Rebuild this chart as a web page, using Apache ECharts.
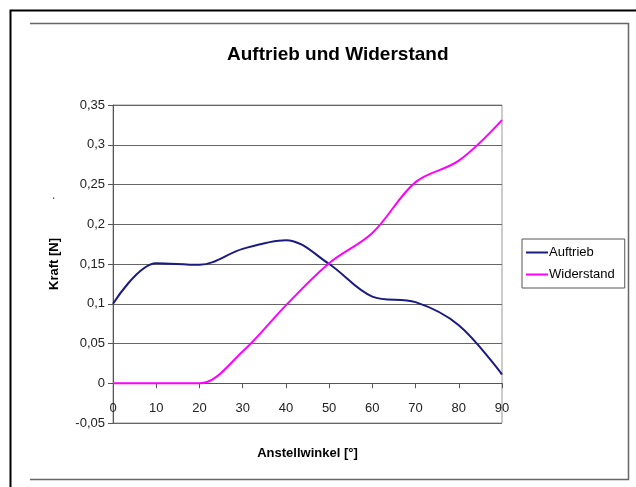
<!DOCTYPE html>
<html>
<head>
<meta charset="utf-8">
<script src="https://cdn.jsdelivr.net/npm/echarts@6/dist/echarts.min.js"></script>
<style>
  html, body { margin: 0; padding: 0; background: #fff; }
  #chart { width: 636px; height: 487px; }
</style>
</head>
<body>
<div id="chart"></div>
<script>
// Werte
var winkel = [0, 10, 20, 30, 40, 50, 60, 70, 80, 90];
var auftrieb = [0.100, 0.151, 0.149, 0.169, 0.180, 0.150, 0.109, 0.102, 0.073, 0.011];
var widerstand = [0.000, 0.000, 0.000, 0.040, 0.098, 0.151, 0.189, 0.253, 0.280, 0.331];
var yTicks = [-0.05, 0, 0.05, 0.1, 0.15, 0.2, 0.25, 0.3, 0.35];

function pairs(xs, ys) {
  return xs.map(function (x, i) { return [x, ys[i]]; });
}

// Plotbereich
var gTop = 105, gBottom = 64, gLeft = 113, gRight = 134;
var plotH = 487 - gTop - gBottom;
// Abstand der Nulllinie vom unteren Rand (x-Achse liegt bei y = 0)
var zeroOffset = plotH * (0 - yTicks[0]) / (yTicks[yTicks.length - 1] - yTicks[0]);

var chart = echarts.init(document.getElementById('chart'), null, { renderer: 'canvas' });

chart.setOption({
  backgroundColor: '#fff',
  animation: false,
  textStyle: { fontFamily: 'Liberation Sans, Arial, sans-serif' },
  title: {
    text: 'Auftrieb und Widerstand',
    left: 222,
    top: 40,
    textStyle: { fontSize: 19, fontWeight: 'bold', color: '#000', fontFamily: 'Liberation Sans, Arial, sans-serif' }
  },
  grid: {
    left: gLeft,
    right: gRight,
    top: gTop,
    bottom: gBottom,
    outerBoundsMode: 'none',
    containLabel: false,
    show: true,
    borderColor: '#999',
    borderWidth: 1
  },
  legend: {
    orient: 'vertical',
    left: 522,
    top: 239,
    itemWidth: 22,
    itemHeight: 2,
    itemGap: 9,
    padding: [7, 10, 7, 4],
    borderColor: '#555',
    borderWidth: 1,
    icon: 'rect',
    textStyle: { fontSize: 13, color: '#000', padding: [0, 0, 0, -4] },
    data: ['Auftrieb', 'Widerstand']
  },
  xAxis: {
    type: 'value',
    min: 0,
    max: 90,
    interval: 10,
    offset: -zeroOffset,
    name: 'Anstellwinkel [°]',
    nameLocation: 'middle',
    nameGap: 64,
    nameTextStyle: { fontSize: 13, fontWeight: 'bold', color: '#000' },
    axisLine: { onZero: false, lineStyle: { color: '#555', width: 1 } },
    axisTick: { show: true, length: 5, inside: false, lineStyle: { color: '#555' } },
    axisLabel: { fontSize: 13, color: '#222', margin: 19 },
    splitLine: { show: false }
  },
  yAxis: {
    type: 'value',
    min: yTicks[0],
    max: yTicks[yTicks.length - 1],
    interval: 0.05,
    name: 'Kraft [N]',
    nameLocation: 'middle',
    nameGap: 52,
    nameTextStyle: { fontSize: 13, fontWeight: 'bold', color: '#000' },
    axisLine: { show: true, onZero: false, lineStyle: { color: '#555', width: 1 } },
    axisTick: { show: true, length: 5, lineStyle: { color: '#555' } },
    axisLabel: {
      fontSize: 13,
      color: '#222',
      margin: 8,
      formatter: function (v) {
        return String(Math.round(v * 100) / 100).replace('.', ',');
      }
    },
    splitLine: { show: true, lineStyle: { color: '#666', width: 1 } }
  },
  series: [
    {
      name: 'Auftrieb',
      type: 'line',
      smooth: 0.35,
      showSymbol: false,
      color: '#1a1a80',
      lineStyle: { color: '#1a1a80', width: 2 },
      data: pairs(winkel, auftrieb)
    },
    {
      name: 'Widerstand',
      type: 'line',
      smooth: 0.35,
      showSymbol: false,
      color: '#ff00ff',
      lineStyle: { color: '#ff00ff', width: 2 },
      data: pairs(winkel, widerstand)
    }
  ],
  graphic: [
    // schwarzer Außenrahmen
    { type: 'polyline', shape: { points: [[10.5, 487], [10.5, 10.5], [636, 10.5]] },
      style: { stroke: '#000', lineWidth: 2, fill: null } },
    // grauer Innenrahmen (oben, rechts, unten)
    { type: 'polyline', shape: { points: [[30, 23.5], [628.5, 23.5], [628.5, 479.5], [30, 479.5]] },
      style: { stroke: '#666', lineWidth: 1.5, fill: null } },
    { type: 'text', left: 52, top: 190, style: { text: '.', fontSize: 12, fill: '#444' } }
  ]
});
</script>
</body>
</html>
